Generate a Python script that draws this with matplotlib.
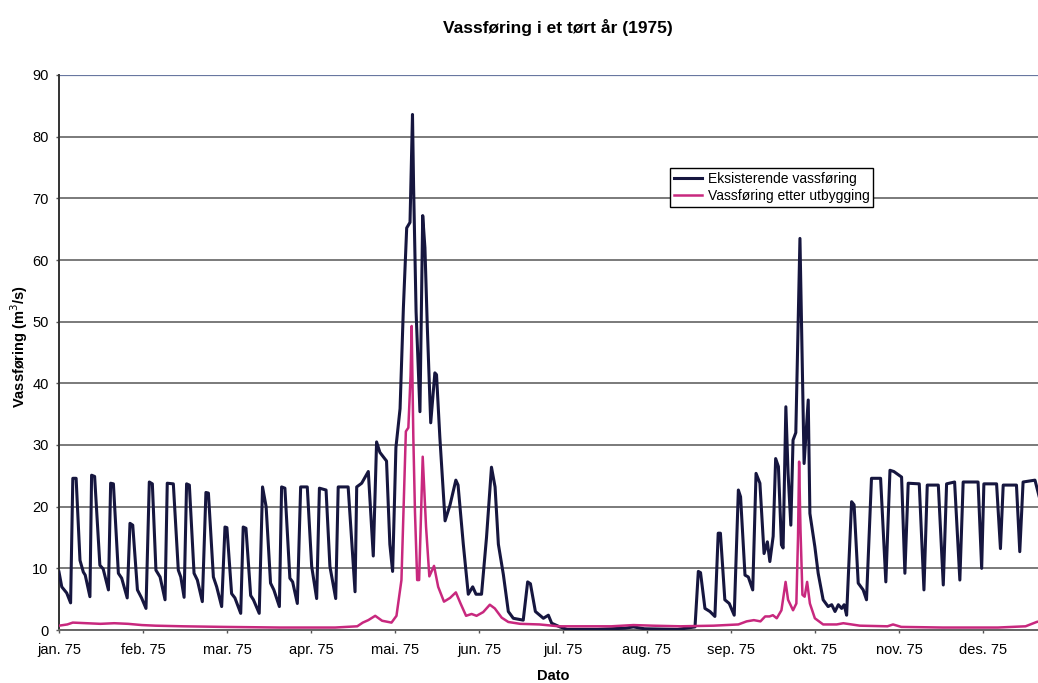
import matplotlib.pyplot as plt

plt.rcParams['font.family'] = ['Liberation Sans', 'DejaVu Sans']

# Day of year (0 = 1 Jan) and flow in m3/s at the line vertices
eks_day = [0, 1, 2.8, 4.2, 5, 6.2, 7.6, 8.8, 9.5, 11.2, 11.8, 12.9, 14.8, 16, 17.9, 18.7, 19.7,
           21.5, 22.7, 24.7, 25.7, 26.7, 28.4, 29.9, 31.5, 32.7, 33.8, 35.1, 36.6, 38.4, 39.2,
           41.4, 43.2, 44.1, 45.3, 46.2, 47.2, 48.9, 50.1, 51.9, 53.2, 54.1, 55.9, 57.1, 58.9,
           60.1, 60.8, 62.5, 63.7, 65.8, 66.7, 67.7, 69.4, 70.4, 72.5, 73.7, 75, 76.6, 77.8,
           79.8, 80.6, 81.8, 83.6, 84.6, 86.3, 87.5, 89.9, 91.5, 93.3, 94.3, 96.7, 98.1, 100.2,
           101.1, 104.7, 107.2, 107.8, 109.6, 112, 113.8, 115, 116.2, 118.6, 119.8, 120.8, 122,
           123.5, 124.7, 125.9, 127.1, 128, 128.4, 129.3, 130.7, 131.7, 132.5, 133.4, 134.6,
           136.1, 136.7, 137.9, 139.8, 141.6, 143.7, 144.5, 146.4, 148.2, 149.8, 151, 153,
           154.8, 156.6, 157.9, 159.1, 160.9, 162.7, 164.5, 168.1, 169.7, 170.7, 172.5, 175.4,
           177.2, 178.4, 181.4, 184, 195, 205, 208, 212, 224, 230.3, 231.5, 232.3, 233.9, 235.7,
           237.5, 238.7, 239.5, 241.1, 242.7, 244.5, 246, 246.8, 248.4, 249.6, 251.2, 252.4,
           253.8, 255.3, 256.5, 257.4, 258.6, 259.5, 260.5, 261.6, 262.2, 263.2, 264, 265,
           265.8, 266.8, 268.3, 269.8, 271.3, 271.9, 273.7, 274.9, 276.7, 278.5, 279.8, 281,
           282.2, 283.4, 284.3, 285.2, 287, 287.9, 289.4, 291.2, 292.4, 294.2, 297.5, 299.4,
           300.9, 302.3, 305.1, 306.3, 307.5, 311.5, 313.2, 314.4, 318.4, 320.2, 321.4, 324.3,
           326.2, 327.4, 332.8, 334.1, 334.9, 339.5, 340.9, 341.9, 346.7, 347.9, 349.1, 353.4,
           355]
eks_val = [9.4, 7.0, 6.0, 4.4, 24.6, 24.6, 11.3, 9.4, 8.9, 5.4, 25.1, 24.9, 10.5, 9.9, 6.5, 23.8, 23.7,
           9.2, 8.4, 5.2, 17.3, 17.0, 6.5, 5.2, 3.5, 24.0, 23.7, 9.7, 8.6, 4.9, 23.8,
           23.7, 9.7, 8.6, 5.3, 23.7, 23.5, 9.2, 8.1, 4.6, 22.3, 22.2, 8.6, 7.0, 3.8,
           16.7, 16.6, 5.9, 5.2, 2.7, 16.7, 16.5, 5.6, 4.9, 2.7, 23.2, 20.0, 7.6, 6.5,
           3.8, 23.2, 23.0, 8.4, 7.8, 4.3, 23.2, 23.2, 10.3, 5.1, 23.0, 22.7, 10.3, 5.1,
           23.2, 23.2, 6.2, 23.2, 23.8, 25.7, 12.0, 30.5, 28.8, 27.4, 13.9, 9.5, 29.6,
           35.9, 52.2, 65.2, 66.1, 83.6, 71.9, 51.6, 35.4, 67.2, 62.0, 48.7, 33.6,
           41.7, 41.4, 31.3, 17.7, 20.3, 24.3, 23.5, 13.9, 5.8, 7.0, 5.8, 5.8,
           15.0, 26.4, 23.2, 13.9, 9.0, 3.0, 1.9, 1.6, 7.8, 7.5, 3.0, 1.9,
           2.4, 1.1, 0.5, 0.1, 0.1, 0.3, 0.5, 0.2, 0.1, 0.5, 9.5, 9.3, 3.5, 3.0,
           2.2, 15.7, 15.7, 4.9, 4.3, 2.4, 22.7, 21.6, 8.9, 8.6, 6.5, 25.4,
           23.8, 12.4, 14.3, 11.1, 15.2, 27.8, 26.5, 13.8, 13.3, 36.2, 25.4, 17.0,
           30.8, 32.0, 63.5, 27.0, 37.3, 18.9, 13.5, 9.2, 4.9, 3.8, 4.1, 3.0,
           4.1, 3.5, 4.1, 2.4, 20.8, 20.3, 7.6, 6.5, 4.9, 24.6, 24.6, 7.8,
           25.9, 25.7, 24.8, 9.2, 23.8, 23.7, 6.5, 23.5, 23.5, 7.3, 23.7, 24.0,
           8.1, 24.0, 24.0, 10.0, 23.7, 23.7, 13.2, 23.5, 23.5, 12.7, 24.0, 24.3,
           21.5]

utb_day = [0, 3, 5, 10, 15, 20, 25, 30, 35, 45, 60, 80, 100, 108, 110, 112, 114.5, 117, 120.4,
           122.2, 124, 125.6, 126.5, 127.3, 127.7, 128.3, 128.9, 129.7, 130.4, 131.7, 132.9,
           134.1, 135.8, 137.3, 139.4, 141.6, 143.7, 145.4, 147.4, 149.4, 151.2, 153.6, 156,
           157.8, 160.3, 162.7, 167, 174, 181, 200, 208, 215, 225, 237, 246, 249, 251.6, 254,
           255.7, 257.3, 258.5, 259.9, 261.6, 263.1, 264, 265.8, 267, 267.6, 268, 268.5, 269.2,
           270, 270.9, 271.9, 273.7, 276.7, 281.6, 284, 290, 300, 302, 305, 320, 340, 350, 354,
           356]
utb_val = [0.7, 0.9, 1.2, 1.1, 1.0, 1.1, 1.0, 0.8, 0.7, 0.6, 0.5, 0.4, 0.4, 0.6, 1.2, 1.6, 2.3, 1.5, 1.2,
           2.3, 8.1, 32.2, 32.8, 41.2, 49.3, 31.3, 19.1, 8.1, 8.1, 28.1, 16.8,
           8.7, 10.4, 7.0, 4.6, 5.2, 6.1, 4.3, 2.3, 2.6, 2.3, 2.9, 4.1,
           3.5, 2.0, 1.3, 1.0, 0.9, 0.6, 0.6, 0.8, 0.7, 0.6, 0.7, 0.9, 1.4, 1.6, 1.4,
           2.2, 2.2, 2.4, 1.9, 3.2, 7.8, 4.9, 3.2, 4.3, 15.1, 27.3, 16.2, 5.7,
           5.4, 7.8, 4.3, 1.9, 0.9, 0.9, 1.1, 0.7, 0.6, 0.9, 0.5, 0.4, 0.4, 0.6, 1.3,
           1.5]

months = ['jan. 75', 'feb. 75', 'mar. 75', 'apr. 75', 'mai. 75', 'jun. 75',
          'jul. 75', 'aug. 75', 'sep. 75', 'okt. 75', 'nov. 75', 'des. 75']

fig = plt.figure(figsize=(10.38, 6.83), dpi=100)
# the plot area runs past the right edge of the picture (the original is cropped)
ax = fig.add_axes([59 / 1038, 53 / 683, 1008 / 1038, 555 / 683])

ax.plot(eks_day, eks_val, color='#16163f', lw=2.2, label='Eksisterende vassføring', zorder=3)
ax.plot(utb_day, utb_val, color='#c8287e', lw=1.8, label='Vassføring etter utbygging', zorder=4)

ax.set_xlim(0, 365)
ax.set_ylim(0, 90)
ax.set_yticks(range(0, 91, 10))
ax.set_xticks([i * 365 / 12 for i in range(12)])
ax.set_xticklabels(months)
ax.tick_params(axis='both', labelsize=10.5, length=2.5, width=1, direction='out', color='#555555')
ax.tick_params(axis='y', pad=5)
ax.tick_params(axis='x', pad=7)

ax.yaxis.grid(True, color='#7a7a7a', lw=1.4)
ax.set_axisbelow(True)
for s in ['top', 'right']:
    ax.spines[s].set_visible(False)
ax.spines['left'].set_color('#333333')
ax.spines['bottom'].set_color('#666666')
ax.spines['left'].set_linewidth(1.4)
ax.spines['bottom'].set_linewidth(1.4)
ax.axhline(90, color='#6877a0', lw=1.6, zorder=2)

fig.text(558 / 1038, 1 - 28 / 683, 'Vassføring i et tørt år (1975)', ha='center', va='center',
         fontsize=12.5, fontweight='bold')
fig.text(19 / 1038, 1 - 347 / 683, 'Vassføring (m$^3$/s)', ha='center', va='center',
         rotation=90, fontsize=10.5, fontweight='bold')
fig.text(553 / 1038, 1 - 676 / 683, 'Dato', ha='center', va='center', fontsize=10.5, fontweight='bold')

leg = ax.legend(loc='upper left', bbox_to_anchor=(670 / 1038, 1 - 168 / 683),
                bbox_transform=fig.transFigure, fontsize=10, frameon=True, fancybox=False,
                edgecolor='black', framealpha=1, borderpad=0.3, handlelength=2.0,
                handletextpad=0.4, labelspacing=0.2, borderaxespad=0)
leg.get_frame().set_linewidth(1.0)

fig.savefig('out.png', dpi=100)
